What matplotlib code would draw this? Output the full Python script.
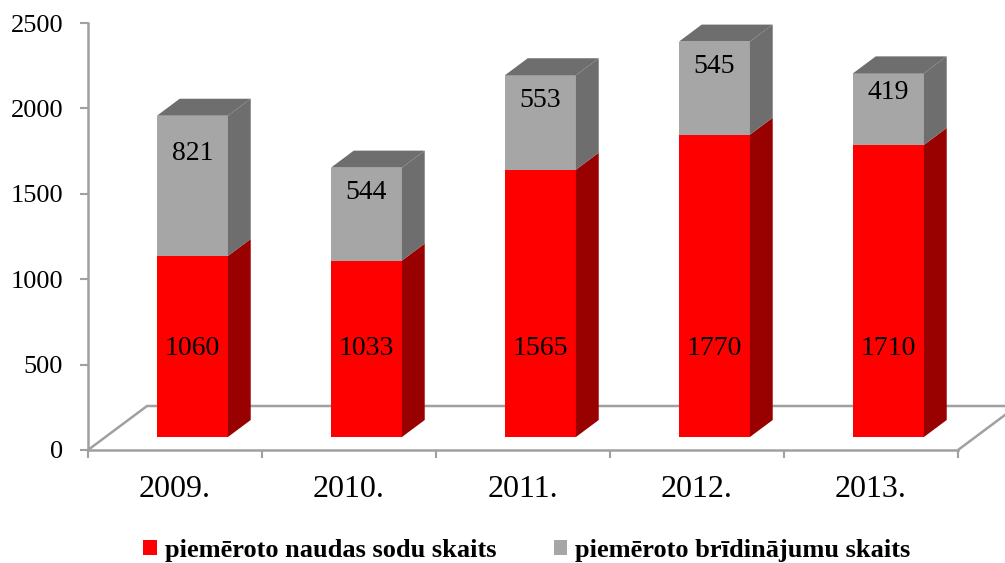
import matplotlib
matplotlib.use('Agg')
import matplotlib.pyplot as plt
from matplotlib.patches import Polygon, Patch

years = ['2009.', '2010.', '2011.', '2012.', '2013.']
fines = [1060, 1033, 1565, 1770, 1710]
warnings = [821, 544, 553, 545, 419]
series_names = ['piemēroto naudas sodu skaits', 'piemēroto brīdinājumu skaits']
yticks = [0, 500, 1000, 1500, 2000, 2500]

plt.rcParams['font.family'] = ['Liberation Serif', 'DejaVu Serif']

RED, RED_SIDE = '#FF0000', '#990000'
GRAY, GRAY_SIDE = '#A6A6A6', '#6E6E6E'
LINE = '#A0A0A0'

W, H = 1005, 563
fig = plt.figure(figsize=(W / 100, H / 100), dpi=100)
ax = fig.add_axes([88 / W, 1 - 450 / H, 870 / W, 427 / H])
n = len(years)
ax.set_xlim(0, n)
ax.set_ylim(0, yticks[-1])

# pseudo-3D geometry (in data units)
px_x = 870 / n
px_y = 427 / yticks[-1]
depth_dx = 59 / px_x
depth_dy = 44 / px_y
f0 = 13 / 44
fd = 17 / 44
bar_w = 71 / px_x
ox, oy = f0 * depth_dx, f0 * depth_dy
sx, sy = fd * depth_dx, fd * depth_dy

# floor
floor = Polygon([(0, 0), (depth_dx, depth_dy), (n + depth_dx, depth_dy), (n, 0)],
                closed=False, facecolor='none', edgecolor=LINE, lw=1.8,
                clip_on=False, zorder=1)
ax.add_patch(floor)

xs = [i + 0.5 + ox for i in range(n)]
totals = [f + w for f, w in zip(fines, warnings)]
ax.bar(xs, fines, width=bar_w, bottom=oy, color=RED, zorder=3, linewidth=0)
ax.bar(xs, warnings, width=bar_w, bottom=[oy + f for f in fines], color=GRAY,
       zorder=3, linewidth=0)

for x, f, t in zip(xs, fines, totals):
    xl, xr = x - bar_w / 2, x + bar_w / 2
    for b, tp, c in [(oy, oy + f, RED_SIDE), (oy + f, oy + t, GRAY_SIDE)]:
        ax.add_patch(Polygon([(xr, b), (xr + sx, b + sy), (xr + sx, tp + sy), (xr, tp)],
                             closed=True, facecolor=c, edgecolor='none',
                             clip_on=False, zorder=3))
    T = oy + t
    ax.add_patch(Polygon([(xl, T), (xl + sx, T + sy), (xr + sx, T + sy), (xr, T)],
                         closed=True, facecolor=GRAY_SIDE, edgecolor='none',
                         clip_on=False, zorder=3))

# value labels
red_lab = oy + min(fines) / 2
for x, f, w in zip(xs, fines, warnings):
    ax.text(x, red_lab, str(f), ha='center', va='center', fontsize=20,
            color='black', zorder=5)
    ax.text(x, oy + f + 0.73 * w, str(w), ha='center', va='center', fontsize=20,
            color='black', zorder=5)

# axes styling
for s in ['top', 'right']:
    ax.spines[s].set_visible(False)
for s in ['left', 'bottom']:
    ax.spines[s].set_color(LINE)
    ax.spines[s].set_linewidth(1.8)
ax.set_yticks(yticks)
ax.set_yticklabels([str(v) for v in yticks])
ax.tick_params(axis='y', direction='out', length=6, width=1.5, color=LINE,
               labelsize=19, pad=12, labelcolor='black')
ax.set_xticks(range(n + 1))
ax.set_xticklabels([])
ax.set_xticks([i + 0.5 for i in range(n)], minor=True)
ax.set_xticklabels(years, minor=True)
ax.tick_params(axis='x', which='major', direction='out', length=6, width=1.5,
               color=LINE)
ax.tick_params(axis='x', which='minor', length=0, labelsize=23, pad=18,
               labelcolor='black')
ax.set_facecolor('none')

handles = [Patch(facecolor=RED, edgecolor='none'), Patch(facecolor=GRAY, edgecolor='none')]
fig.legend(handles, series_names, loc='center', bbox_to_anchor=(527 / W, 1 - 550 / H),
           ncol=2, frameon=False, prop={'weight': 'bold', 'size': 19},
           handlelength=0.5, handleheight=0.5, handletextpad=0.3, columnspacing=2.2)

fig.savefig('out.png', dpi=100)
